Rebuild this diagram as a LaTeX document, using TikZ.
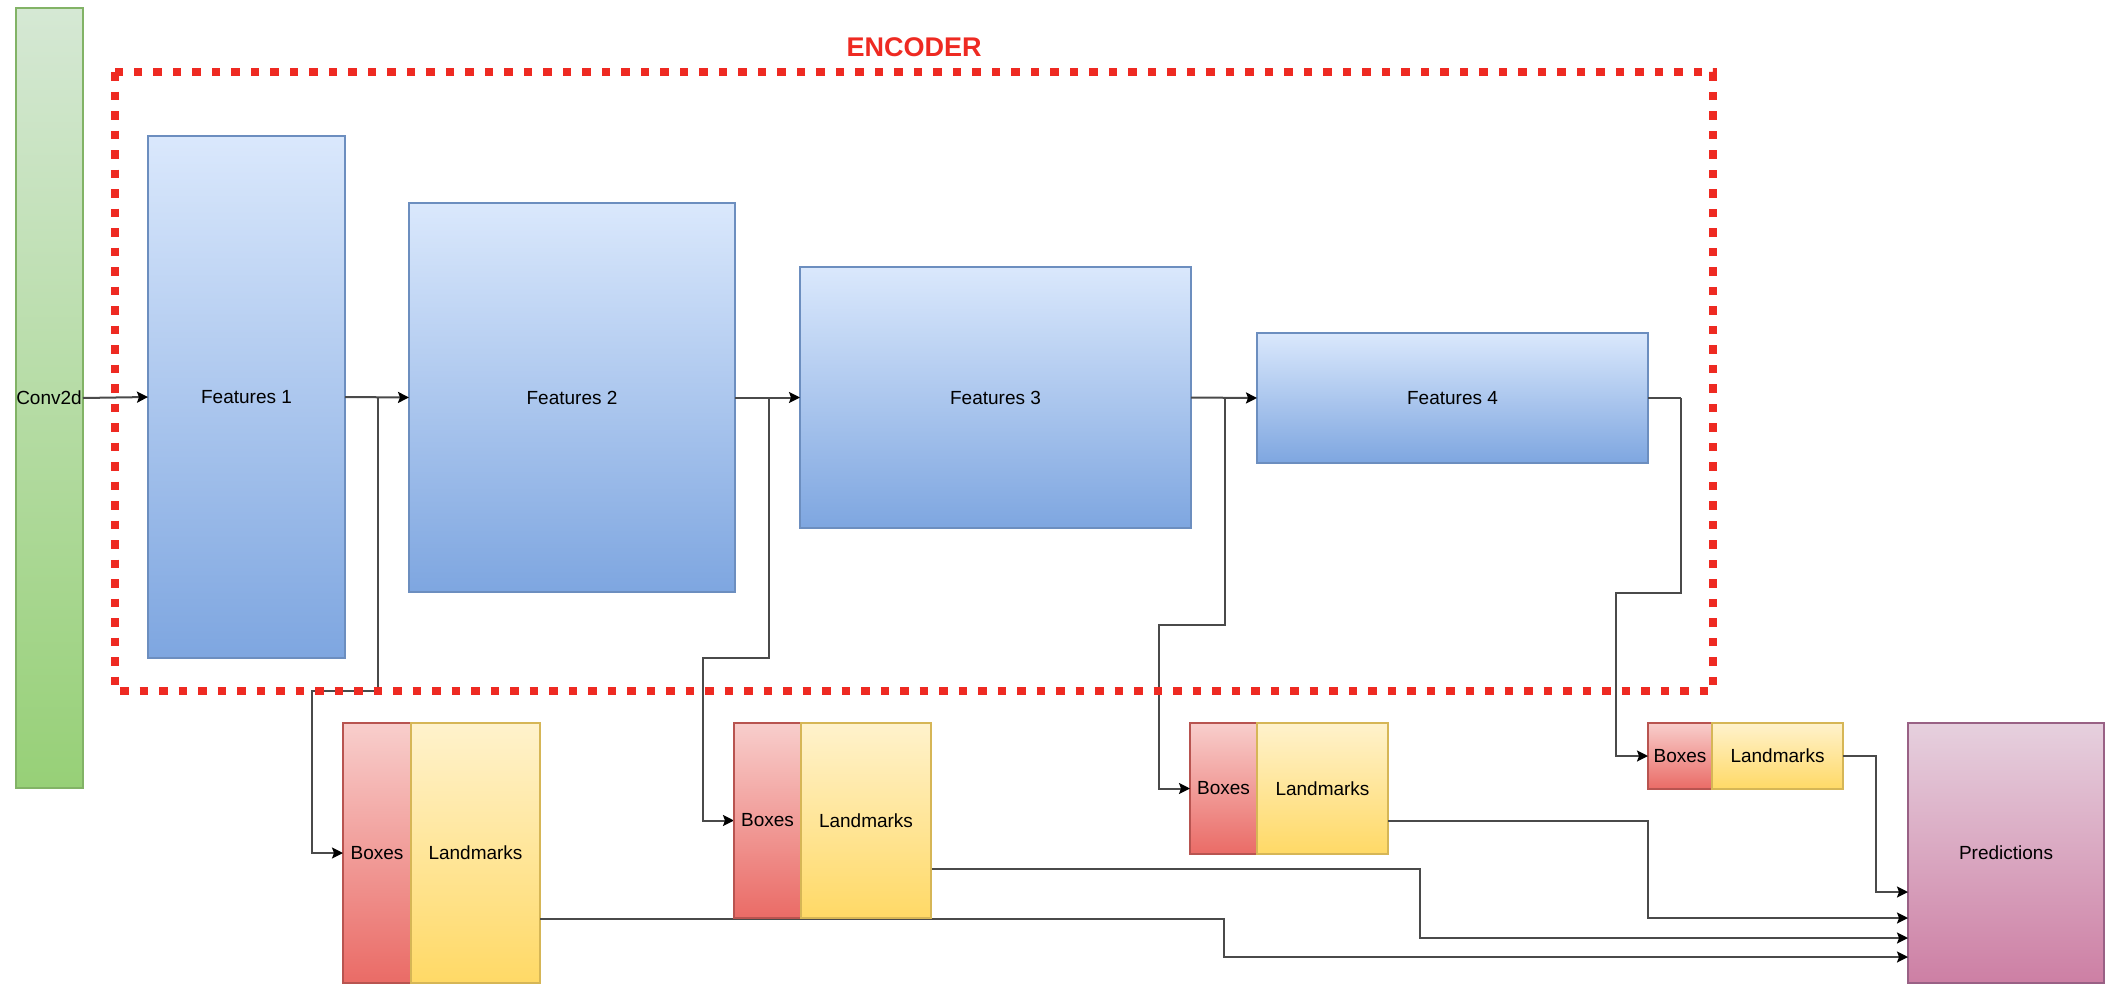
\documentclass[tikz,border=0pt]{standalone}
\usepackage{fontspec}
\setmainfont{Liberation Sans}
\usetikzlibrary{arrows.meta}

\definecolor{encred}{HTML}{EE2A22}
\definecolor{linegray}{HTML}{4A4A4A}

\tikzset{
  block/.style={draw, line width=1.2pt, outer sep=0pt, inner sep=0pt, anchor=north west,
    font=\fontsize{19}{22}\selectfont},
  greenbox/.style={block, draw=HTML82B366, top color=HTMLd5e8d4, bottom color=HTML97d077},
  bluebox/.style={block, draw=HTML6c8ebf, top color=HTMLdae8fc, bottom color=HTML7ea6e0},
  redbox/.style={block, draw=HTMLb85450, top color=HTMLf8cecc, bottom color=HTMLea6b66},
  yellowbox/.style={block, draw=HTMLd6b656, top color=HTMLfff2cc, bottom color=HTMLffd966},
  purplebox/.style={block, draw=HTML996185, top color=HTMLe6d0de, bottom color=HTMLcd7fa4},
  wire/.style={draw=linegray, line width=2pt},
  conn/.style={wire, -{Stealth[length=11pt,width=11pt,inset=2pt,color=black]}},
  encoder/.style={draw=encred, line width=8.5pt, dash pattern=on 8.5pt off 11pt},
}
\definecolor{HTML82B366}{HTML}{82B366}
\definecolor{HTMLd5e8d4}{HTML}{D5E8D4}
\definecolor{HTML97d077}{HTML}{97D077}
\definecolor{HTML6c8ebf}{HTML}{6C8EBF}
\definecolor{HTMLdae8fc}{HTML}{DAE8FC}
\definecolor{HTML7ea6e0}{HTML}{7EA6E0}
\definecolor{HTMLb85450}{HTML}{B85450}
\definecolor{HTMLf8cecc}{HTML}{F8CECC}
\definecolor{HTMLea6b66}{HTML}{EA6B66}
\definecolor{HTMLd6b656}{HTML}{D6B656}
\definecolor{HTMLfff2cc}{HTML}{FFF2CC}
\definecolor{HTMLffd966}{HTML}{FFD966}
\definecolor{HTML996185}{HTML}{996185}
\definecolor{HTMLe6d0de}{HTML}{E6D0DE}
\definecolor{HTMLcd7fa4}{HTML}{CD7FA4}

\begin{document}
\begin{tikzpicture}[x=1pt,y=1pt]
\useasboundingbox (0,0) rectangle (2111,-983);
\clip (0,0) rectangle (2111,-983);

% input layer
\node[greenbox, minimum width=67pt, minimum height=780pt] (conv) at (16,-8) {};
\node[font=\fontsize{19}{22}\selectfont] (convlbl) at (49,-398) {Conv2d};

% encoder feature maps
\node[bluebox, minimum width=197pt, minimum height=522pt] (f1) at (148,-136) {Features 1};
\node[bluebox, minimum width=326pt, minimum height=389pt] (f2) at (409,-203) {Features 2};
\node[bluebox, minimum width=391pt, minimum height=261pt] (f3) at (800,-267) {Features 3};
\node[bluebox, minimum width=391pt, minimum height=130pt] (f4) at (1257,-333) {Features 4};

% detection heads
\node[redbox, minimum width=68pt, minimum height=260pt] (b1) at (343,-723) {Boxes};
\node[yellowbox, minimum width=129pt, minimum height=260pt] (l1) at (411,-723) {Landmarks};
\node[redbox, minimum width=67pt, minimum height=195pt] (b2) at (734,-723) {Boxes};
\node[yellowbox, minimum width=130pt, minimum height=195pt] (l2) at (801,-723) {Landmarks};
\node[redbox, minimum width=67pt, minimum height=131pt] (b3) at (1190,-723) {Boxes};
\node[yellowbox, minimum width=131pt, minimum height=131pt] (l3) at (1257,-723) {Landmarks};
\node[redbox, minimum width=64pt, minimum height=66pt] (b4) at (1648,-723) {Boxes};
\node[yellowbox, minimum width=131pt, minimum height=66pt] (l4) at (1712,-723) {Landmarks};

% output
\node[purplebox, minimum width=196pt, minimum height=260pt] (pred) at (1908,-723) {Predictions};

% branch points on the backbone
\coordinate (j1) at (378,-398);
\coordinate (j2) at (769,-398);
\coordinate (j3) at (1225,-398);
\coordinate (j4) at (1681,-398);

% backbone
\draw[conn] (conv.east) -- (f1.west);
\draw[conn] (f1.east) -- (f2.west);
\draw[conn] (f2.east) -- (f3.west);
\draw[conn] (f3.east) -- (f4.west);

% taps to the heads
\draw[conn] (j1) |- (312,-691) |- (b1.west);
\draw[conn] (j2) |- (703,-658) |- (b2.west);
\draw[conn] (j3) |- (1159,-625) |- (b3.west);
\draw[wire] (f4.east) -- (j4);
\draw[conn] (j4) |- (1616,-593) |- (b4.west);

% heads to predictions
\draw[conn] (l1.east |- 0,-919) -| (1224,-957) -- (pred.west |- 0,-957);
\draw[conn] (l2.east |- 0,-869) -| (1420,-938) -- (pred.west |- 0,-938);
\draw[conn] (l3.east |- 0,-821) -| (1648,-918) -- (pred.west |- 0,-918);
\draw[conn] (l4.east) -| (1876,-892) -- (pred.west |- 0,-892);

% redraw head nodes over the wire that runs along their lower edge
\node[redbox, minimum width=67pt, minimum height=195pt] at (734,-723) {Boxes};
\node[yellowbox, minimum width=130pt, minimum height=195pt] at (801,-723) {Landmarks};

% encoder frame
\node[text=encred, font=\fontsize{27}{30}\selectfont\bfseries] (enclbl) at (914,-47) {ENCODER};
\draw[encoder] (115,-72) rectangle (1713,-691);
\end{tikzpicture}
\end{document}
